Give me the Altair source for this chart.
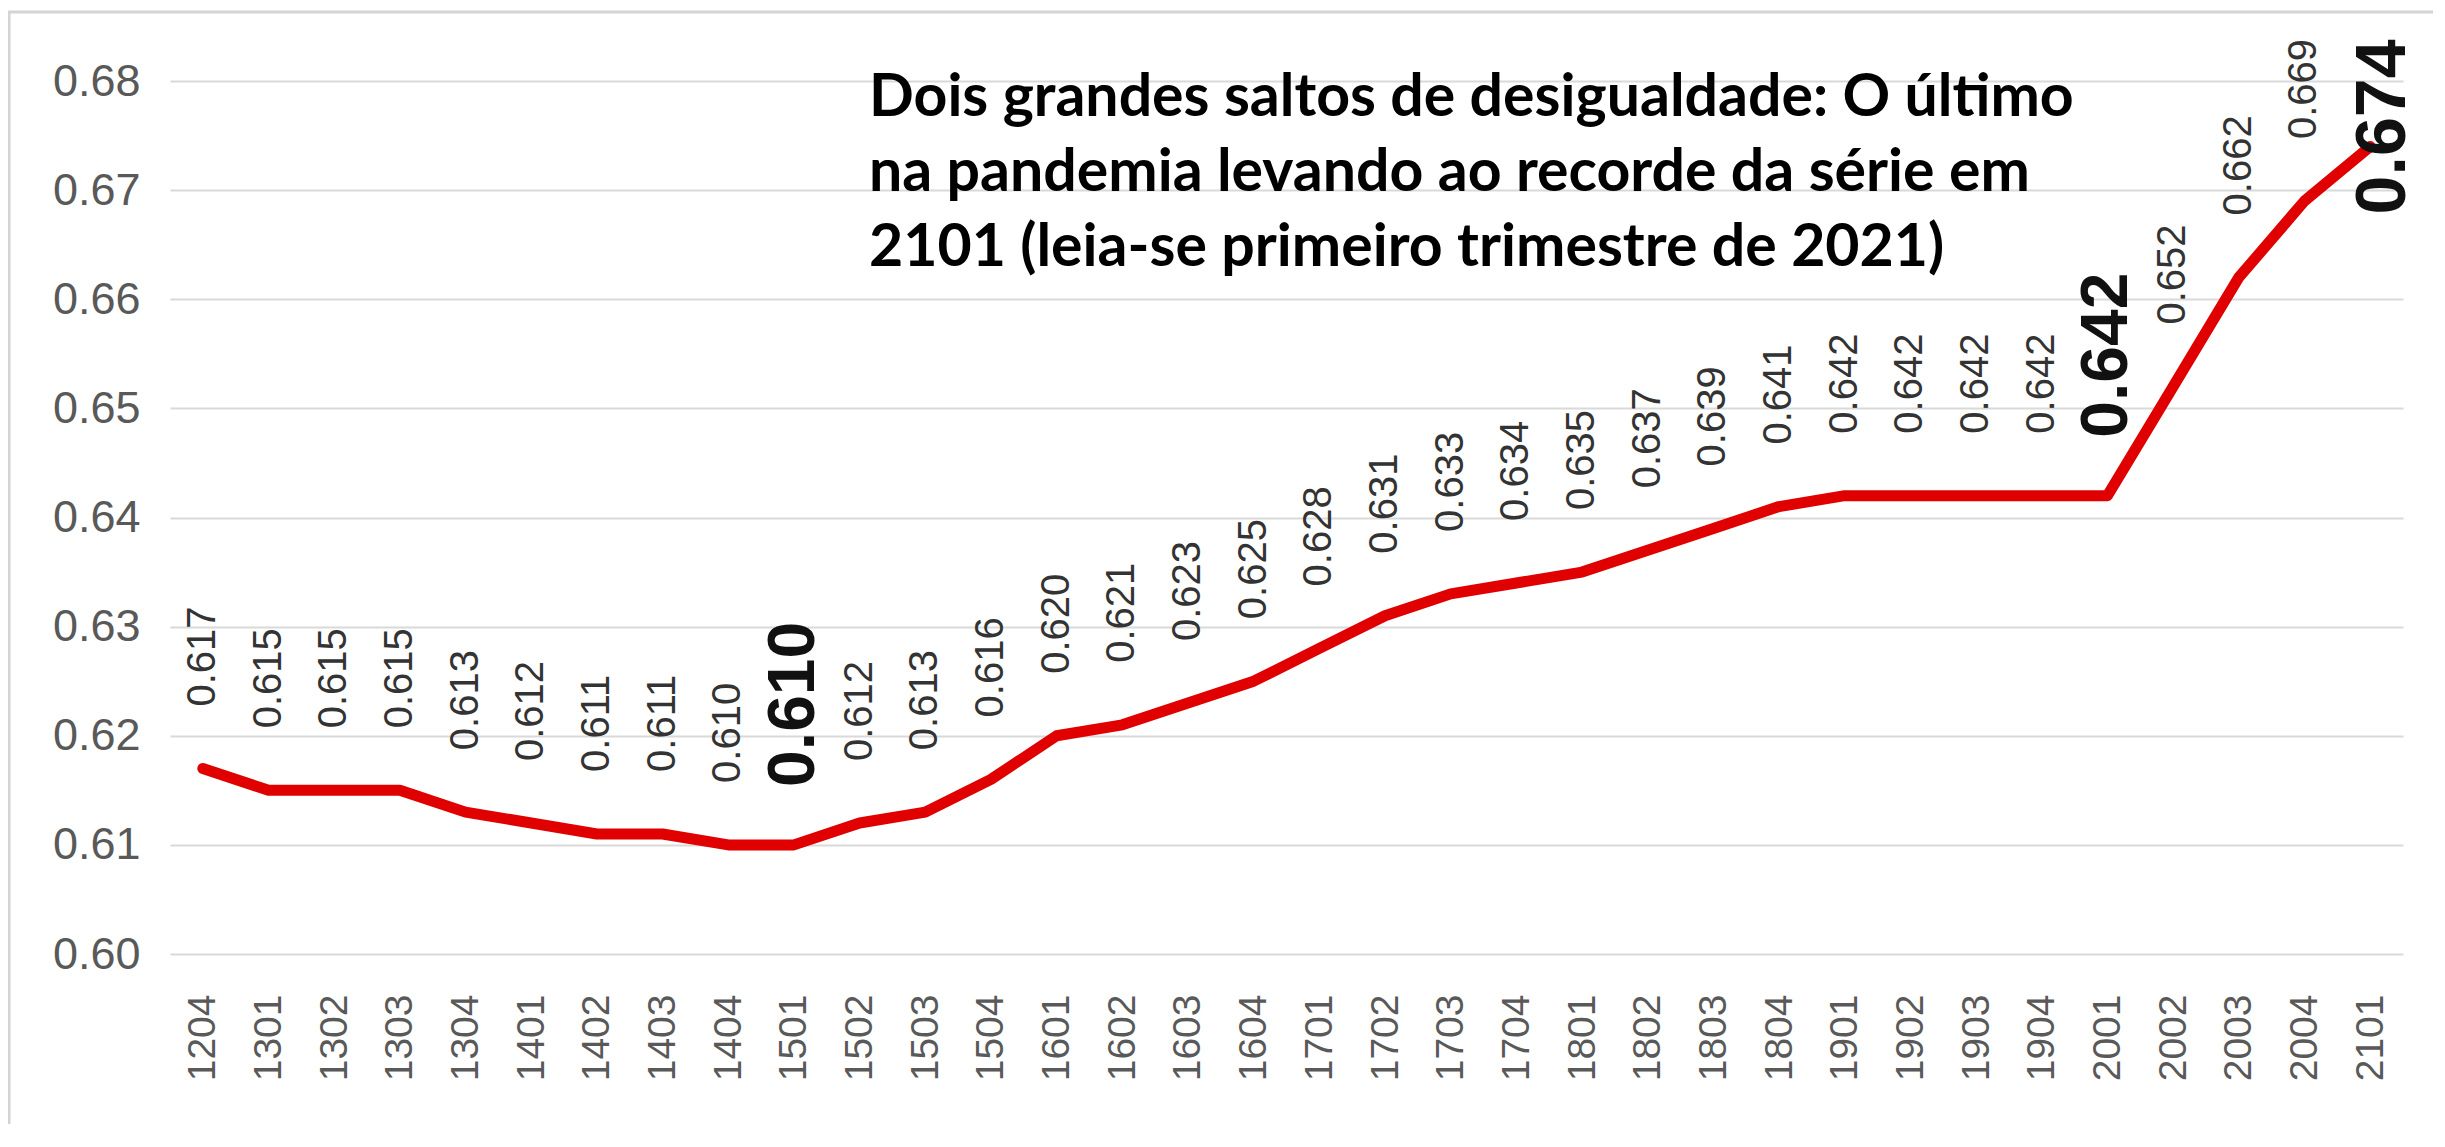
import json
import altair as alt
import pandas as pd

# ---------------- data ----------------
trimestres = ["1204",
              "1301", "1302", "1303", "1304",
              "1401", "1402", "1403", "1404",
              "1501", "1502", "1503", "1504",
              "1601", "1602", "1603", "1604",
              "1701", "1702", "1703", "1704",
              "1801", "1802", "1803", "1804",
              "1901", "1902", "1903", "1904",
              "2001", "2002", "2003", "2004",
              "2101"]
gini = [0.617,
        0.615, 0.615, 0.615, 0.613,
        0.612, 0.611, 0.611, 0.610,
        0.610, 0.612, 0.613, 0.616,
        0.620, 0.621, 0.623, 0.625,
        0.628, 0.631, 0.633, 0.634,
        0.635, 0.637, 0.639, 0.641,
        0.642, 0.642, 0.642, 0.642,
        0.642, 0.652, 0.662, 0.669,
        0.674]
destaques = ["1501", "2001"]
recorde = ["2101"]
y_ticks = [0.60, 0.61, 0.62, 0.63, 0.64, 0.65, 0.66, 0.67, 0.68]
titulo = ["Dois grandes saltos de desigualdade: O último",
          "na pandemia levando ao recorde da série em",
          "2101 (leia-se primeiro trimestre de 2021)"]

df = pd.DataFrame({"tri": trimestres, "gini": gini})
one = pd.DataFrame({"k": [0]})

W, H = 2233, 873

x_enc = alt.X("tri:O", sort=trimestres,
              scale=alt.Scale(type="point", padding=0.5),
              axis=alt.Axis(title=None, labelAngle=270, labelFontSize=39,
                            labelFont="Liberation Sans", labelColor="#595959",
                            labelPadding=40, ticks=False, domain=False, grid=False))
y_enc = alt.Y("gini:Q",
              scale=alt.Scale(domain=[0.60, 0.68], nice=False, zero=False),
              axis=alt.Axis(title=None, values=y_ticks, format=".2f",
                            labelFontSize=45, labelFont="Liberation Sans",
                            labelColor="#595959", labelPadding=30,
                            ticks=False, domain=False,
                            gridColor="#d9d9d9", gridWidth=2))

base = alt.Chart(df).encode(x=x_enc, y=y_enc)

line = base.mark_line(color="#e00000", strokeWidth=11,
                      strokeCap="round", strokeJoin="round")

especiais = destaques + recorde
labels = base.transform_filter(
    f"indexof({json.dumps(especiais)}, datum.tri) < 0"
).mark_text(angle=270, align="left", baseline="middle", dx=62,
            fontSize=40, font="Liberation Sans", color="#333333"
).encode(text=alt.Text("gini:Q", format=".3f"))

bold_labels = base.transform_filter(
    f"indexof({json.dumps(destaques)}, datum.tri) >= 0"
).mark_text(angle=270, align="left", baseline="middle", dx=58,
            fontSize=66, font="Liberation Sans", fontWeight="bold",
            color="#111111"
).encode(text=alt.Text("gini:Q", format=".3f"))

rec_label = base.transform_filter(
    f"indexof({json.dumps(recorde)}, datum.tri) >= 0"
).mark_text(angle=270, align="left", baseline="middle", dx=-68, dy=14,
            fontSize=70, font="Liberation Sans", fontWeight="bold",
            color="#111111"
).encode(text=alt.Text("gini:Q", format=".3f"))

title = alt.Chart(one).mark_text(
    text=titulo, align="left", baseline="alphabetic", font="Lato",
    fontWeight="bold", fontSize=59, lineHeight=75, color="#000000"
).encode(x=alt.value(699), y=alt.value(35))

frame = alt.Chart(one).mark_rect(
    fillOpacity=0, stroke="#d4d4d4", strokeWidth=3
).encode(x=alt.value(-161), x2=alt.value(2400),
         y=alt.value(-69), y2=alt.value(1060))

chart = alt.layer(frame, line, labels, bold_labels, rec_label, title).properties(
    width=W, height=H,
    padding={"left": 162, "top": 73, "right": 30, "bottom": 170},
    autosize=alt.AutoSizeParams(type="none"),
).configure_view(strokeWidth=0)

chart.save("out.html", embed_options={"renderer": "svg", "actions": False})
